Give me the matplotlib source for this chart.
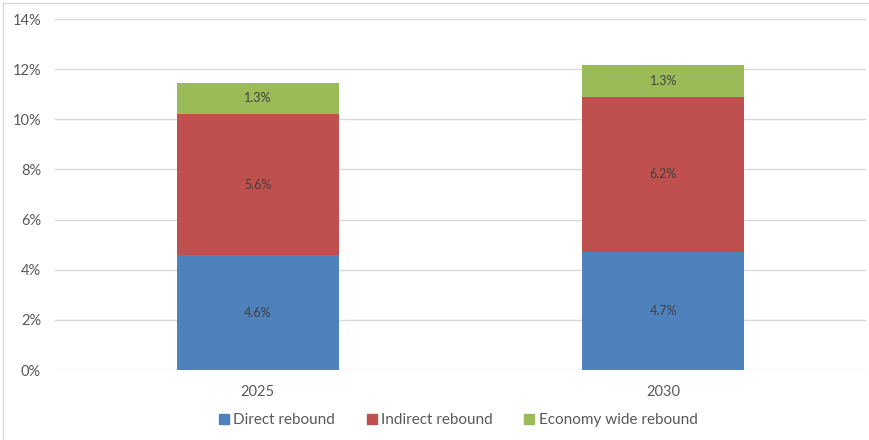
import matplotlib
matplotlib.use("Agg")
import matplotlib.pyplot as plt
from matplotlib.lines import Line2D
from matplotlib.ticker import FuncFormatter

categories = ["2025", "2030"]
direct = [4.58, 4.71]
indirect = [5.62, 6.18]
economy = [1.26, 1.28]
series_names = ["Direct rebound", "Indirect rebound", "Economy wide rebound"]
colors = ["#4F81BD", "#C0504D", "#9BBB59"]
yticks = [0, 2, 4, 6, 8, 10, 12, 14]

plt.rcParams['font.family'] = ['Lato', 'DejaVu Sans']

fig = plt.figure(figsize=(8.69, 4.40), dpi=100)
ax = fig.add_axes([55/869, 1-370/440, (866-55)/869, (370-19)/440])

x = list(range(len(categories)))
bottom = [0.0]*len(categories)
for vals, name, col in zip([direct, indirect, economy], series_names, colors):
    ax.bar(x, vals, width=0.4, bottom=bottom, color=col, label=name, zorder=3)
    for xi, v, b in zip(x, vals, bottom):
        ax.text(xi, b + v/2, f"{v:.1f}%", ha='center', va='center',
                fontsize=9, color='#404040', zorder=4)
    bottom = [b + v for b, v in zip(bottom, vals)]

ax.set_xlim(-0.5, 1.5)
ax.set_ylim(0, 14)
ax.set_yticks(yticks)
ax.yaxis.set_major_formatter(FuncFormatter(lambda v, p: f"{v:.0f}%"))
ax.set_xticks(x)
ax.set_xticklabels(categories)
ax.grid(axis='y', color='#D9D9D9', linewidth=1, zorder=0)
for s in ax.spines.values():
    s.set_visible(False)
ax.tick_params(axis='both', length=0, labelsize=10.5, colors='#595959')
ax.tick_params(axis='y', pad=10)
ax.tick_params(axis='x', pad=11)

handles = [Line2D([0], [0], marker='s', linestyle='none', markersize=7,
                  markerfacecolor=c, markeredgecolor=c) for c in colors]
leg = fig.legend(handles, series_names, loc='center', bbox_to_anchor=(457/869, 1-420/440),
                 ncol=3, frameon=False, fontsize=11, handletextpad=0.1,
                 columnspacing=1.9, handlelength=1.0)
for t in leg.get_texts():
    t.set_color('#595959')

# light chart border (top and left visible)
fig.add_artist(Line2D([3/869, 1], [1-3/440, 1-3/440], color='#D9D9D9', linewidth=1, transform=fig.transFigure))
fig.add_artist(Line2D([3/869, 3/869], [0, 1-3/440], color='#D9D9D9', linewidth=1, transform=fig.transFigure))

fig.savefig("out.png", dpi=100)
